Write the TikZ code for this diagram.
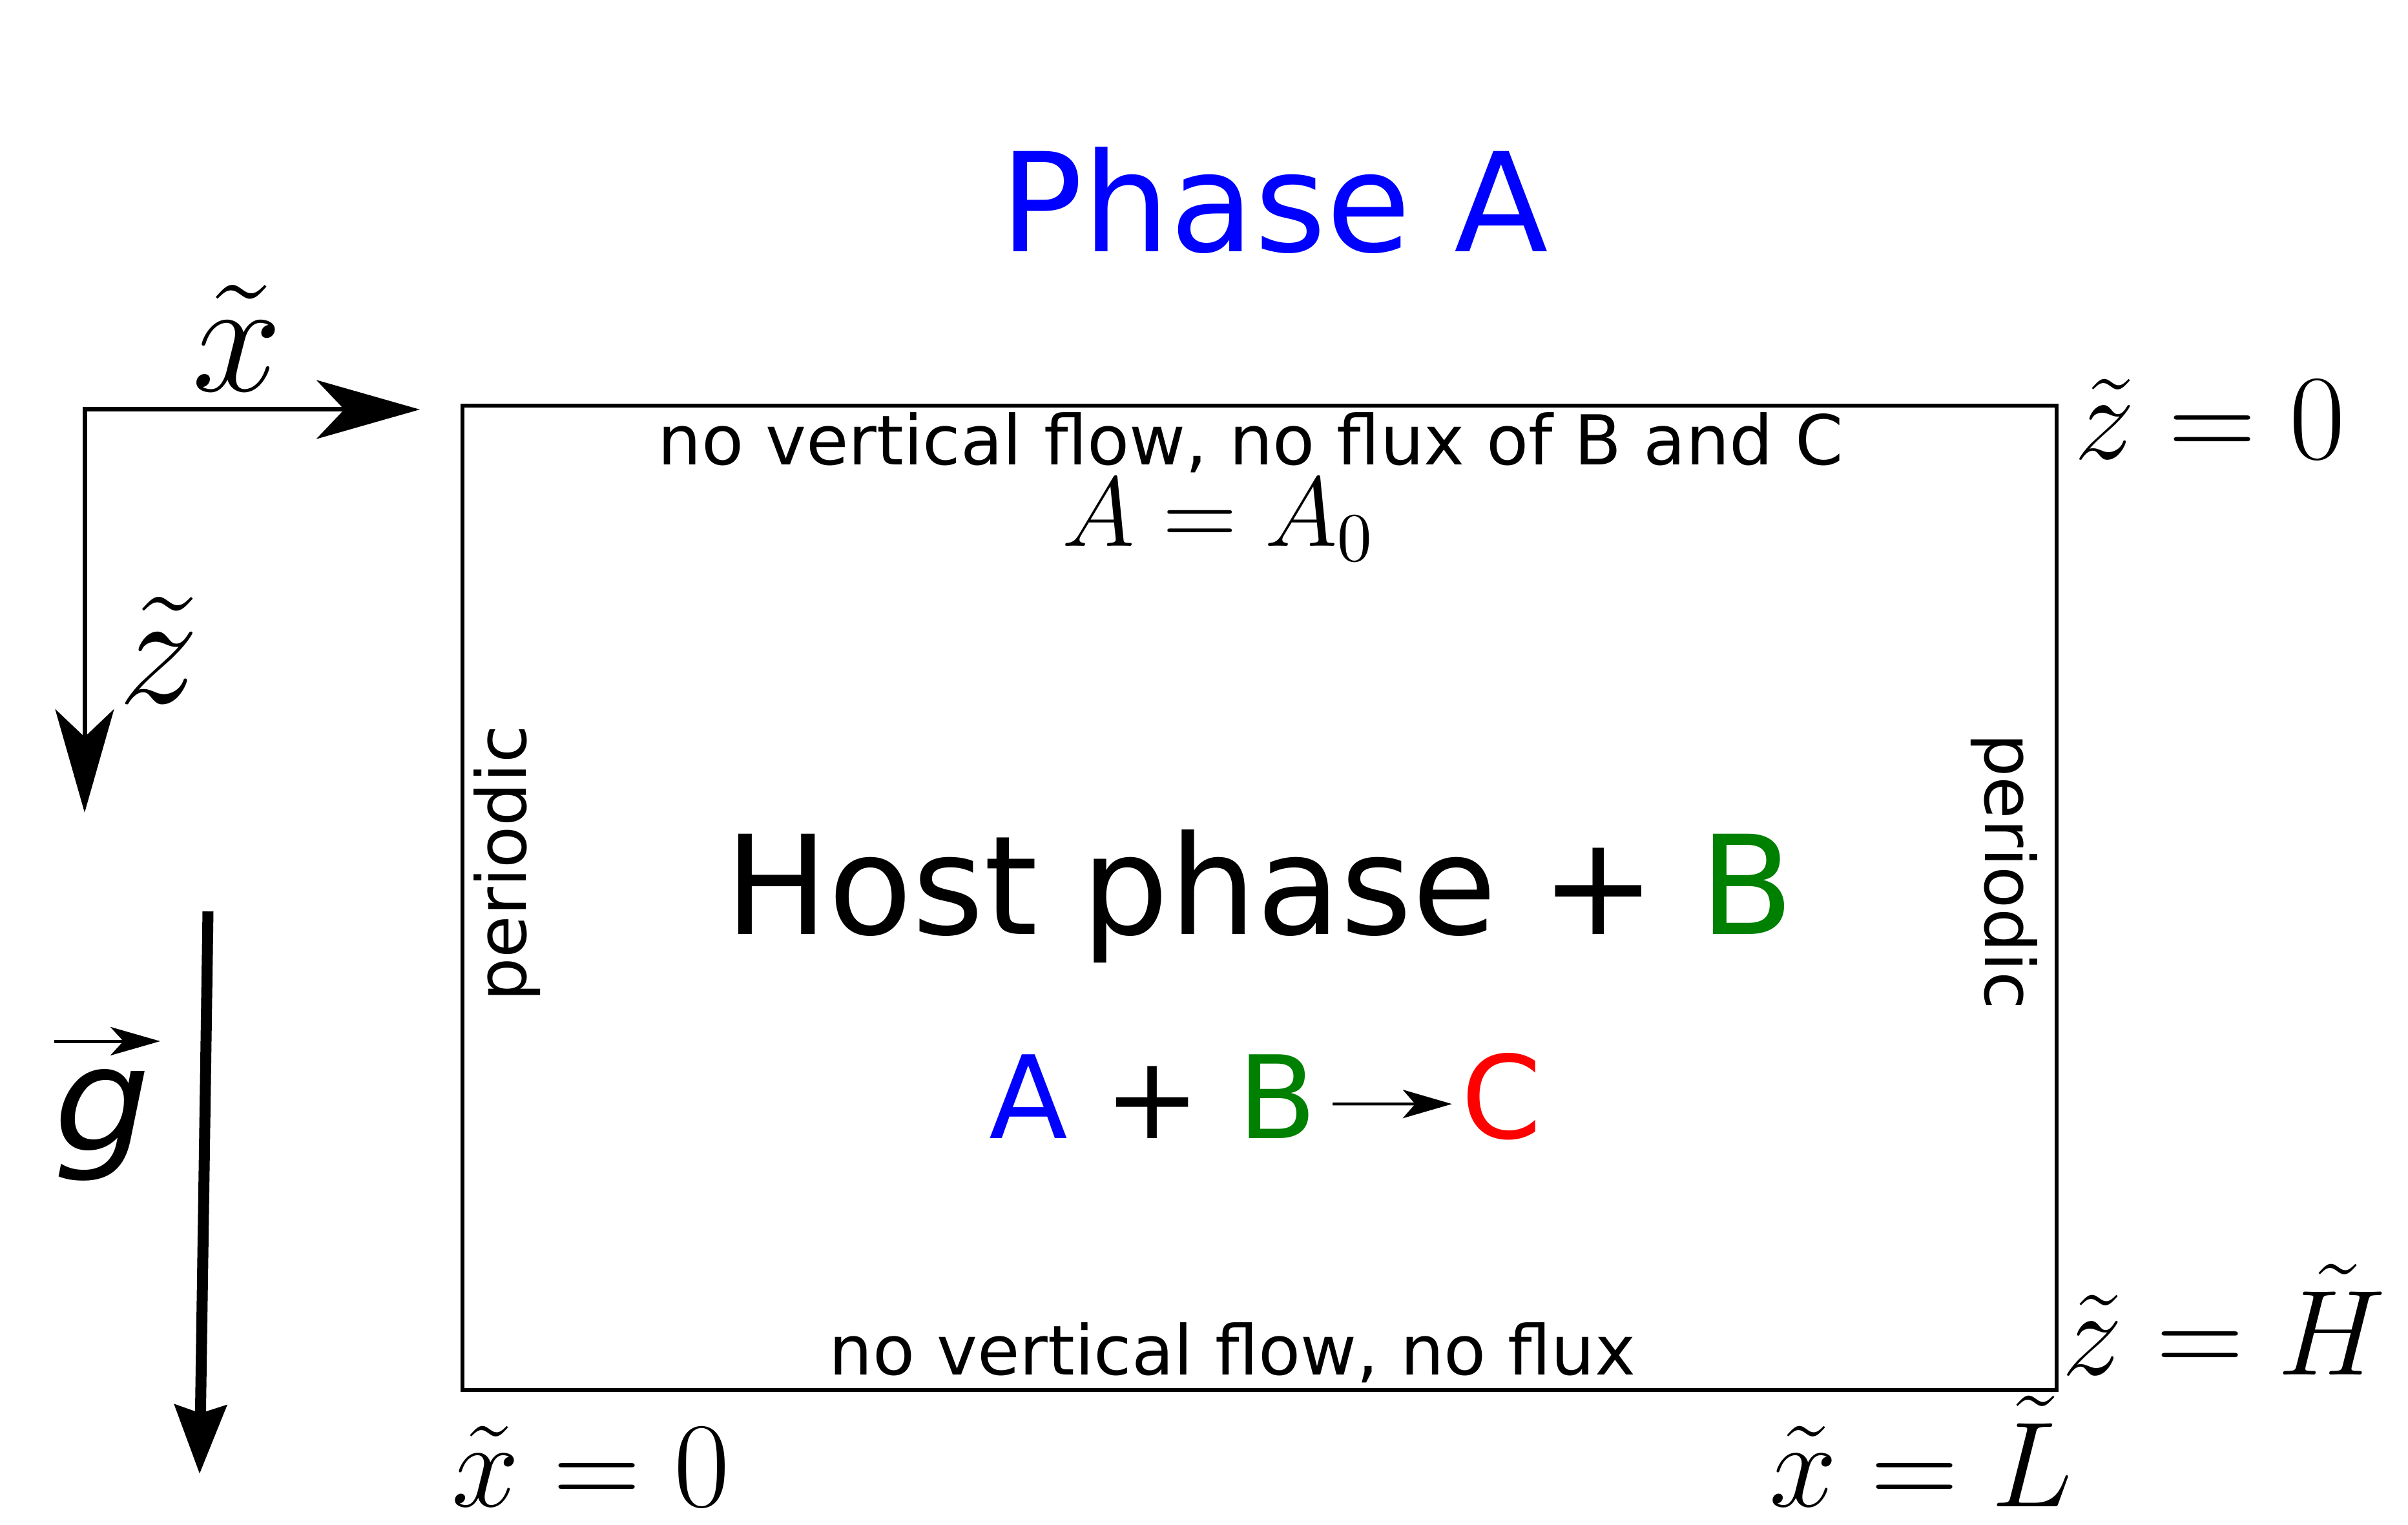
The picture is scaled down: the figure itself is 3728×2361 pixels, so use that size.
\RequirePackage{fix-cm}
\documentclass[tikz,border=0pt]{standalone}
\usepackage[no-math]{fontspec}
\newfontfamily\dejavu{DejaVu Sans}
\usetikzlibrary{arrows.meta}
\definecolor{phaseblue}{RGB}{0,0,255}
\definecolor{phasegreen}{RGB}{0,128,0}
\definecolor{phasered}{RGB}{255,0,0}
\begin{document}
\begin{tikzpicture}[x=0.1pt,y=-0.1pt,
  small/.style={font=\dejavu\fontsize{10.65}{12}\selectfont,inner sep=0,anchor=base},
  big/.style={font=\dejavu\fontsize{21.3}{25}\selectfont,inner sep=0,anchor=base},
  mid/.style={font=\dejavu\fontsize{17.8}{21}\selectfont,inner sep=0,anchor=base},
  mathlbl/.style={font=\fontsize{18.8}{22}\selectfont,inner sep=0,anchor=base},
  axislbl/.style={font=\fontsize{25}{29}\selectfont,inner sep=0,anchor=base},
  axisarrow/.style={line width=0.7pt,line join=miter,
    {Stealth[length=16pt,width=9.1pt,inset=4.3pt]}-{Stealth[length=16pt,width=9.1pt,inset=4.3pt]}},
  gravarrow/.style={line width=1.7pt,-{Stealth[length=10.6pt,width=7.9pt,inset=1.2pt]}},
  thinarrow/.style={line width=0.45pt,-{Stealth[length=7.6pt,width=4.4pt,inset=1.9pt]}},
]
\useasboundingbox (0,0) rectangle (3728,2361);

% domain box
\node (box) [draw,line width=0.6pt,minimum width=246.8pt,minimum height=152.4pt,inner sep=0] at (1950,1390) {};

% title
\node (title) [big,text=phaseblue] at (1973,390) {Phase A};

% axes
\coordinate (origin) at (131,634);
\coordinate (xtip) at (650,634);
\coordinate (ztip) at (131,1258);
\draw[axisarrow] (xtip) -- (origin) -- (ztip);
\node (xlbl) [axislbl] at (367,606) {$\tilde{x}$};
\node (zlbl) [axislbl] at (246,1089) {$\tilde{z}$};

% gravity
\coordinate (gtop) at (322,1411);
\coordinate (gtip) at (309,2282);
\draw[gravarrow] (gtop) -- (gtip);
\node (glbl) [font=\dejavu\itshape\fontsize{22.5}{26}\selectfont,inner sep=0,anchor=base,xscale=1.05] at (158,1781) {g};
\coordinate (gvs) at (84,1612);
\coordinate (gve) at (248,1612);
\draw[line width=0.5pt,-{Stealth[length=7.7pt,width=4.4pt,inset=2pt]}] (gvs) -- (gve);

% boundary conditions
\node (topbc) [small] at (1936,720) {no vertical flow, no flux of B and C};
\node (topA) [font=\fontsize{15.3}{18}\selectfont,inner sep=0,anchor=base] at (1887,846) {$A=A_0$};
\node (botbc) [small] at (1908,2128) {no vertical flow, no flux};
\node (leftbc) [font=\dejavu\fontsize{10.65}{12}\selectfont,inner sep=0,rotate=90] at (785,1337) {periodic};
\node (rightbc) [font=\dejavu\fontsize{10.65}{12}\selectfont,inner sep=0,rotate=-90] at (3103,1349) {periodic};

% host phase
\node (host) [big] at (1950,1447) {Host phase + \textcolor{phasegreen}{B}};

% reaction
\node (rA) [mid,text=phaseblue] at (1592,1762) {A};
\node (rplus) [mid] at (1784,1762) {+};
\node (rB) [mid,text=phasegreen] at (1978,1762) {B};
\node (rC) [mid,text=phasered] at (2325,1762) {C};
\draw[thinarrow] ([xshift=2.2pt,yshift=-1.2pt]rB.east) -- ([xshift=-1.3pt,yshift=-1.2pt]rC.west);

% coordinate labels
\node (x0) [mathlbl] at (915,2332) {$\tilde{x}=0$};
\node (xL) [mathlbl] at (2974,2332) {$\tilde{x}=\tilde{L}$};
\node (z0) [mathlbl] at (3421,711) {$\tilde{z}=0$};
\node (zH) [mathlbl] at (3443,2128) {$\tilde{z}=\tilde{H}$};
\end{tikzpicture}
\end{document}
